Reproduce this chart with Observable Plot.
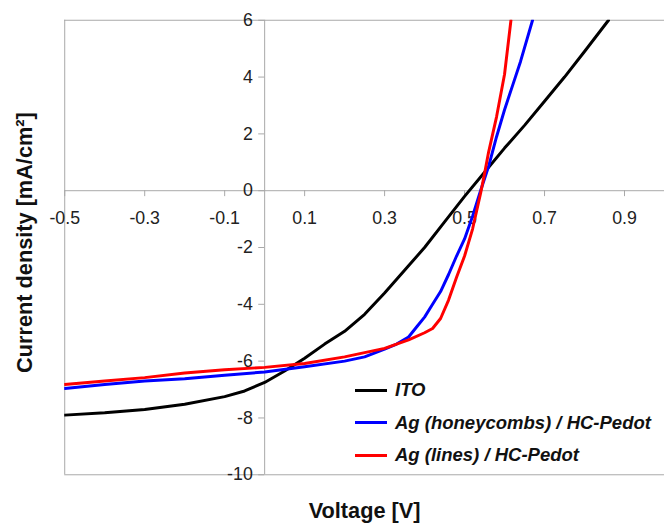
<!DOCTYPE html>
<html><head><meta charset="utf-8">
<script src="https://cdn.jsdelivr.net/npm/d3@7"></script>
<script src="https://cdn.jsdelivr.net/npm/@observablehq/plot@0.6"></script>
<style>
html,body{margin:0;padding:0;overflow:hidden;background:#fff;}
#wrap{position:relative;width:664px;height:524px;overflow:hidden;background:#fff;}
#legend{position:absolute;left:355px;top:374px;font:italic bold 18.5px "Liberation Sans",Arial,sans-serif;color:#111;}
#legend .row{display:flex;align-items:center;height:32.5px;white-space:nowrap;}
#legend .sw{display:inline-block;width:32px;height:3px;margin-right:8px;}
</style></head><body><div id="wrap"><div id="legend"></div></div>
<script>
// ---- data ----
const xTicks = [-0.5, -0.3, -0.1, 0.1, 0.3, 0.5, 0.7, 0.9];
const yTicks = [6, 4, 2, 0, -2, -4, -6, -8, -10];

const seriesNames = ["ITO", "Ag (honeycombs) / HC-Pedot", "Ag (lines) / HC-Pedot"];
const seriesColors = ["#000000", "#0000ff", "#ff0000"];

const itoV = [-0.5, -0.4, -0.3, -0.2, -0.1, -0.05, 0, 0.05, 0.1, 0.15, 0.2, 0.25, 0.3, 0.35, 0.4, 0.45, 0.5, 0.55, 0.6, 0.65, 0.7, 0.75, 0.8, 0.86];
const itoJ = [-7.9, -7.82, -7.7, -7.52, -7.25, -7.05, -6.75, -6.35, -5.9, -5.4, -4.95, -4.35, -3.6, -2.8, -2.0, -1.1, -0.2, 0.65, 1.5, 2.3, 3.15, 4.0, 4.9, 6.0];

const honeyV = [-0.5, -0.4, -0.3, -0.2, -0.1, 0, 0.1, 0.2, 0.25, 0.3, 0.33, 0.36, 0.38, 0.4, 0.42, 0.44, 0.46, 0.48, 0.5, 0.52, 0.54, 0.56, 0.58, 0.6, 0.62, 0.64, 0.67];
const honeyJ = [-6.96, -6.82, -6.7, -6.62, -6.5, -6.38, -6.2, -6.0, -5.85, -5.58, -5.4, -5.15, -4.8, -4.45, -4.0, -3.55, -2.95, -2.3, -1.7, -0.9, 0.0, 0.85, 1.9, 2.85, 3.7, 4.55, 6.0];

const linesV = [-0.5, -0.4, -0.3, -0.2, -0.1, 0, 0.1, 0.2, 0.3, 0.36, 0.4, 0.42, 0.44, 0.46, 0.48, 0.5, 0.52, 0.54, 0.55, 0.56, 0.58, 0.6, 0.616];
const linesJ = [-6.82, -6.7, -6.58, -6.42, -6.3, -6.22, -6.08, -5.85, -5.55, -5.25, -5.0, -4.85, -4.5, -3.85, -3.05, -2.3, -1.35, -0.1, 0.6, 1.35, 2.6, 4.1, 6.0];

// ---- build ----
const seriesV = [itoV, honeyV, linesV];
const seriesJ = [itoJ, honeyJ, linesJ];
const rows = [];
seriesNames.forEach((name, s) => {
  seriesV[s].forEach((v, i) => rows.push({series: name, v, j: seriesJ[s][i]}));
});

const axisGray = "#a8a8a8";
const font = '"Liberation Sans", Arial, sans-serif';

const chart = Plot.plot({
  width: 672,
  height: 524,
  marginLeft: 65,
  marginRight: 0,
  marginTop: 20,
  marginBottom: 44,
  x: {domain: [-0.5, 1.0], axis: null},
  y: {domain: [-10, 6], axis: null},
  color: {domain: seriesNames, range: seriesColors},
  style: {fontFamily: font, background: "white", overflow: "visible"},
  marks: [
    Plot.ruleY([6, -10], {stroke: axisGray}),
    Plot.ruleX([-0.5], {stroke: axisGray}),
    Plot.ruleY([0], {stroke: axisGray}),
    Plot.ruleX([0], {stroke: axisGray}),
    Plot.ruleX(xTicks, {x: d => d, y1: 0, y2: 0, insetBottom: -6, stroke: axisGray}),
    Plot.ruleY(yTicks, {y: d => d, x1: 0, x2: 0, insetLeft: -6, stroke: axisGray}),
    Plot.text(xTicks, {x: d => d, y: 0, text: d => d.toFixed(1), dy: 28, fontSize: 18, fill: "#222"}),
    Plot.text(yTicks, {x: 0, y: d => d, text: d => String(d), textAnchor: "end", dx: -12, fontSize: 18, fill: "#222"}),
    Plot.line(rows, {x: "v", y: "j", z: "series", stroke: "series", strokeWidth: 3, clip: true}),
    Plot.text(["Current density [mA/cm²]"], {frameAnchor: "left", textAnchor: "middle", lineAnchor: "middle", rotate: -90, dx: -40, dy: -5, fontSize: 22, fontWeight: "bold", fill: "#111"}),
    Plot.text(["Voltage [V]"], {frameAnchor: "bottom", textAnchor: "middle", lineAnchor: "middle", dy: 37, fontSize: 22, fontWeight: "bold", fill: "#111"})
  ]
});
document.getElementById("wrap").prepend(chart);

const legend = document.getElementById("legend");
seriesNames.forEach((name, i) => {
  const row = document.createElement("div");
  row.className = "row";
  const sw = document.createElement("span");
  sw.className = "sw";
  sw.style.background = seriesColors[i];
  const t = document.createElement("span");
  t.textContent = name;
  row.appendChild(sw);
  row.appendChild(t);
  legend.appendChild(row);
});
</script>
</body></html>
